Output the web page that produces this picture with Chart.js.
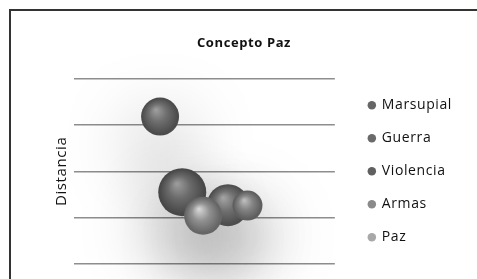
<!DOCTYPE html>
<html lang="es">
<head>
    <meta charset="UTF-8">
    <title>Concepto Paz</title>
    <style>
        body {
            margin: 0;
            background: #fff;
            width: 477px;
            height: 279px;
            overflow: hidden;
            position: relative;
        }

        #frame {
            position: absolute;
            left: 9px;
            top: 9px;
            width: 520px;
            height: 320px;
            border: 2px solid #333;
        }

        #chart {
            position: absolute;
            left: 0;
            top: 0;
        }
    </style>
    <script src="https://cdn.jsdelivr.net/npm/chart.js"></script>
</head>
<body>
    <div id="frame"></div>
    <canvas id="chart" width="477" height="279"></canvas>

    <script>
        // Series data (x = position, y = distancia, r = bubble radius in px)
        const seriesNames = ['Marsupial', 'Guerra', 'Violencia', 'Armas', 'Paz'];
        const xValues = [3.3, 4.15, 5.9, 6.65, 4.95];
        const yValues = [3.18, 1.55, 1.27, 1.26, 1.04];
        const radii = [19, 24, 21, 15, 19];
        const yTicks = [0, 1, 2, 3, 4];

        const baseColors = ['#6e6e6e', '#6a6a6a', '#707070', '#848484', '#909090'];
        const lightColors = ['#9c9c9c', '#9a9a9a', '#a2a2a2', '#bcbcbc', '#d4d4d4'];
        const edgeColors = ['#4c4c4c', '#484848', '#4e4e4e', '#5e5e5e', '#666666'];
        const legendColors = ['#666666', '#6a6a6a', '#606060', '#8a8a8a', '#a8a8a8'];

        // 3D sphere look, gradient placed at the point's pixel position
        function sphere(ctx, i) {
            const chart = ctx.chart;
            const raw = ctx.raw;
            if (!raw || !chart.scales.x || !chart.scales.y) return baseColors[i];
            const cx = chart.scales.x.getPixelForValue(raw.x);
            const cy = chart.scales.y.getPixelForValue(raw.y);
            const r = raw.r;
            if (!isFinite(cx) || !isFinite(cy)) return baseColors[i];
            const g = chart.ctx.createRadialGradient(cx - 0.22 * r, cy - 0.35 * r, 0.04 * r, cx, cy, r);
            g.addColorStop(0, lightColors[i]);
            g.addColorStop(0.45, baseColors[i]);
            g.addColorStop(0.92, edgeColors[i]);
            g.addColorStop(1, edgeColors[i]);
            return g;
        }

        // soft shadow under every bubble, drawn before all bubbles
        const shadowPlugin = {
            id: 'bubbleShadow',
            beforeDatasetsDraw(chart) {
                const ctx = chart.ctx;
                ctx.save();
                ctx.shadowColor = 'rgba(0,0,0,0.34)';
                ctx.shadowBlur = 70;
                ctx.shadowOffsetX = 2000;
                ctx.shadowOffsetY = 30;
                ctx.fillStyle = '#000';
                chart.data.datasets.forEach((ds, i) => {
                    const meta = chart.getDatasetMeta(i);
                    meta.data.forEach(el => {
                        ctx.beginPath();
                        ctx.arc(el.x - 2000, el.y, el.options.radius * 1.3, 0, Math.PI * 2);
                        ctx.fill();
                    });
                });
                ctx.restore();
            }
        };

        // slightly spaced lettering like the original
        const spacingPlugin = {
            id: 'letterSpacing',
            beforeUpdate(chart) { chart.ctx.letterSpacing = '0.6px'; },
            beforeDraw(chart) { chart.ctx.letterSpacing = '0.6px'; }
        };

        const datasets = seriesNames.map((name, i) => ({
            label: name,
            data: [{ x: xValues[i], y: yValues[i], r: radii[i] }],
            backgroundColor: ctx => sphere(ctx, i),
            borderWidth: 0,
            hoverBorderWidth: 0,
            order: seriesNames.length - i
        }));

        new Chart(document.getElementById('chart'), {
            type: 'bubble',
            data: { datasets },
            plugins: [spacingPlugin, shadowPlugin],
            options: {
                responsive: false,
                animation: false,
                layout: { autoPadding: false, padding: { left: 26, top: 20, bottom: 15, right: 15 } },
                plugins: {
                    title: {
                        display: true,
                        text: 'Concepto Paz',
                        color: '#111',
                        font: { family: 'Open Sans', size: 13, weight: 'bold' },
                        padding: { top: 15, bottom: 28 }
                    },
                    legend: {
                        position: 'right',
                        fullSize: false,
                        maxWidth: 200,
                        labels: {
                            usePointStyle: true,
                            pointStyle: 'circle',
                            boxWidth: 6,
                            boxHeight: 6,
                            padding: 19,
                            color: '#111',
                            font: { family: 'Open Sans', size: 14 },
                            sort: (a, b) => a.datasetIndex - b.datasetIndex,
                            generateLabels: chart => Chart.defaults.plugins.legend.labels.generateLabels(chart).map(l => {
                                l.fillStyle = legendColors[l.datasetIndex];
                                l.strokeStyle = legendColors[l.datasetIndex];
                                l.lineWidth = 0;
                                return l;
                            })
                        }
                    },
                    tooltip: { enabled: false }
                },
                scales: {
                    x: { display: false, min: 0, max: 10 },
                    y: {
                        min: yTicks[0],
                        max: yTicks[yTicks.length - 1],
                        afterBuildTicks: s => { s.ticks = yTicks.map(v => ({ value: v })); },
                        ticks: { display: false },
                        grid: { color: '#8e8e8e', lineWidth: 1.5, drawTicks: false },
                        border: { display: false },
                        title: {
                            display: true,
                            text: 'Distancia',
                            color: '#111',
                            font: { family: 'Open Sans', size: 15 },
                            padding: { top: 27, bottom: 3 }
                        }
                    },
                    y2: {
                        position: 'right',
                        grid: { display: false },
                        border: { display: false },
                        ticks: { display: false },
                        afterFit: s => { s.width = 15; }
                    }
                }
            }
        });
    </script>
</body>
</html>
